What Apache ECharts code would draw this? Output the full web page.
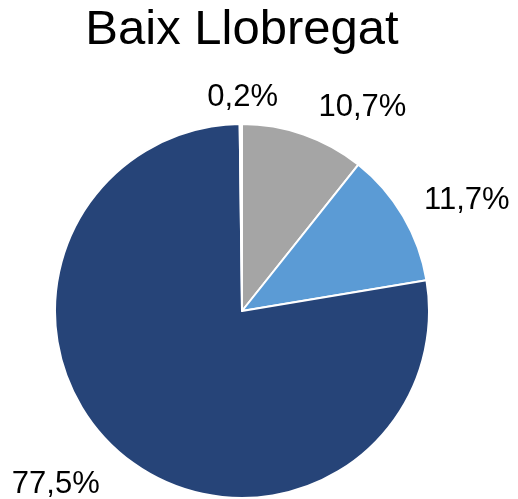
<!DOCTYPE html>
<html>
<head>
<meta charset="utf-8">
<script src="https://cdn.jsdelivr.net/npm/echarts@6/dist/echarts.min.js"></script>
<style>
  html, body { margin: 0; padding: 0; background: #fff; }
  #chart { width: 518px; height: 499px; }
</style>
</head>
<body>
<div id="chart"></div>
<script>
// slices, clockwise from 12 o'clock
const sliceNames = ['Gris', 'Blau clar', 'Blau fosc', 'Altres']
const sliceValues = [10.7, 11.7, 77.5, 0.2]
const sliceLabels = ['10,7%', '11,7%', '77,5%', '0,2%']
const sliceColors = ['#a5a5a5', '#5b9bd5', '#264478', '#ffffff']

const chart = echarts.init(document.getElementById('chart'))

// small nudges so labels sit where Excel put them
const labelNudge = [
  { dx: 0, dy: 1 },
  { dx: -10, dy: 0 },
  { dx: 2, dy: 7 },
  { dx: 7, dy: 3, align: 'center' }
]

const option = {
  backgroundColor: '#fff',
  animation: false,
  title: {
    text: 'Baix Llobregat',
    left: 242,
    top: 6,
    padding: 0,
    textAlign: 'center',
    textStyle: {
      fontFamily: 'Liberation Sans, Arial, sans-serif',
      fontSize: 49,
      fontWeight: 'normal',
      color: '#000'
    }
  },
  series: [
    {
      type: 'pie',
      center: [242, 311],
      radius: 187,
      startAngle: 90,
      clockwise: true,
      avoidLabelOverlap: false,
      itemStyle: {
        borderColor: '#fff',
        borderWidth: 2
      },
      label: {
        show: true,
        position: 'outside',
        fontFamily: 'Liberation Sans, Arial, sans-serif',
        fontSize: 31,
        color: '#000',
        formatter: (p) => sliceLabels[p.dataIndex]
      },
      labelLine: {
        show: false,
        length: 30,
        length2: 0
      },
      labelLayout: (params) => labelNudge[params.dataIndex],
      data: sliceValues.map((v, i) => ({
        name: sliceNames[i],
        value: v,
        itemStyle: { color: sliceColors[i] }
      }))
    }
  ]
}

chart.setOption(option)
</script>
</body>
</html>
